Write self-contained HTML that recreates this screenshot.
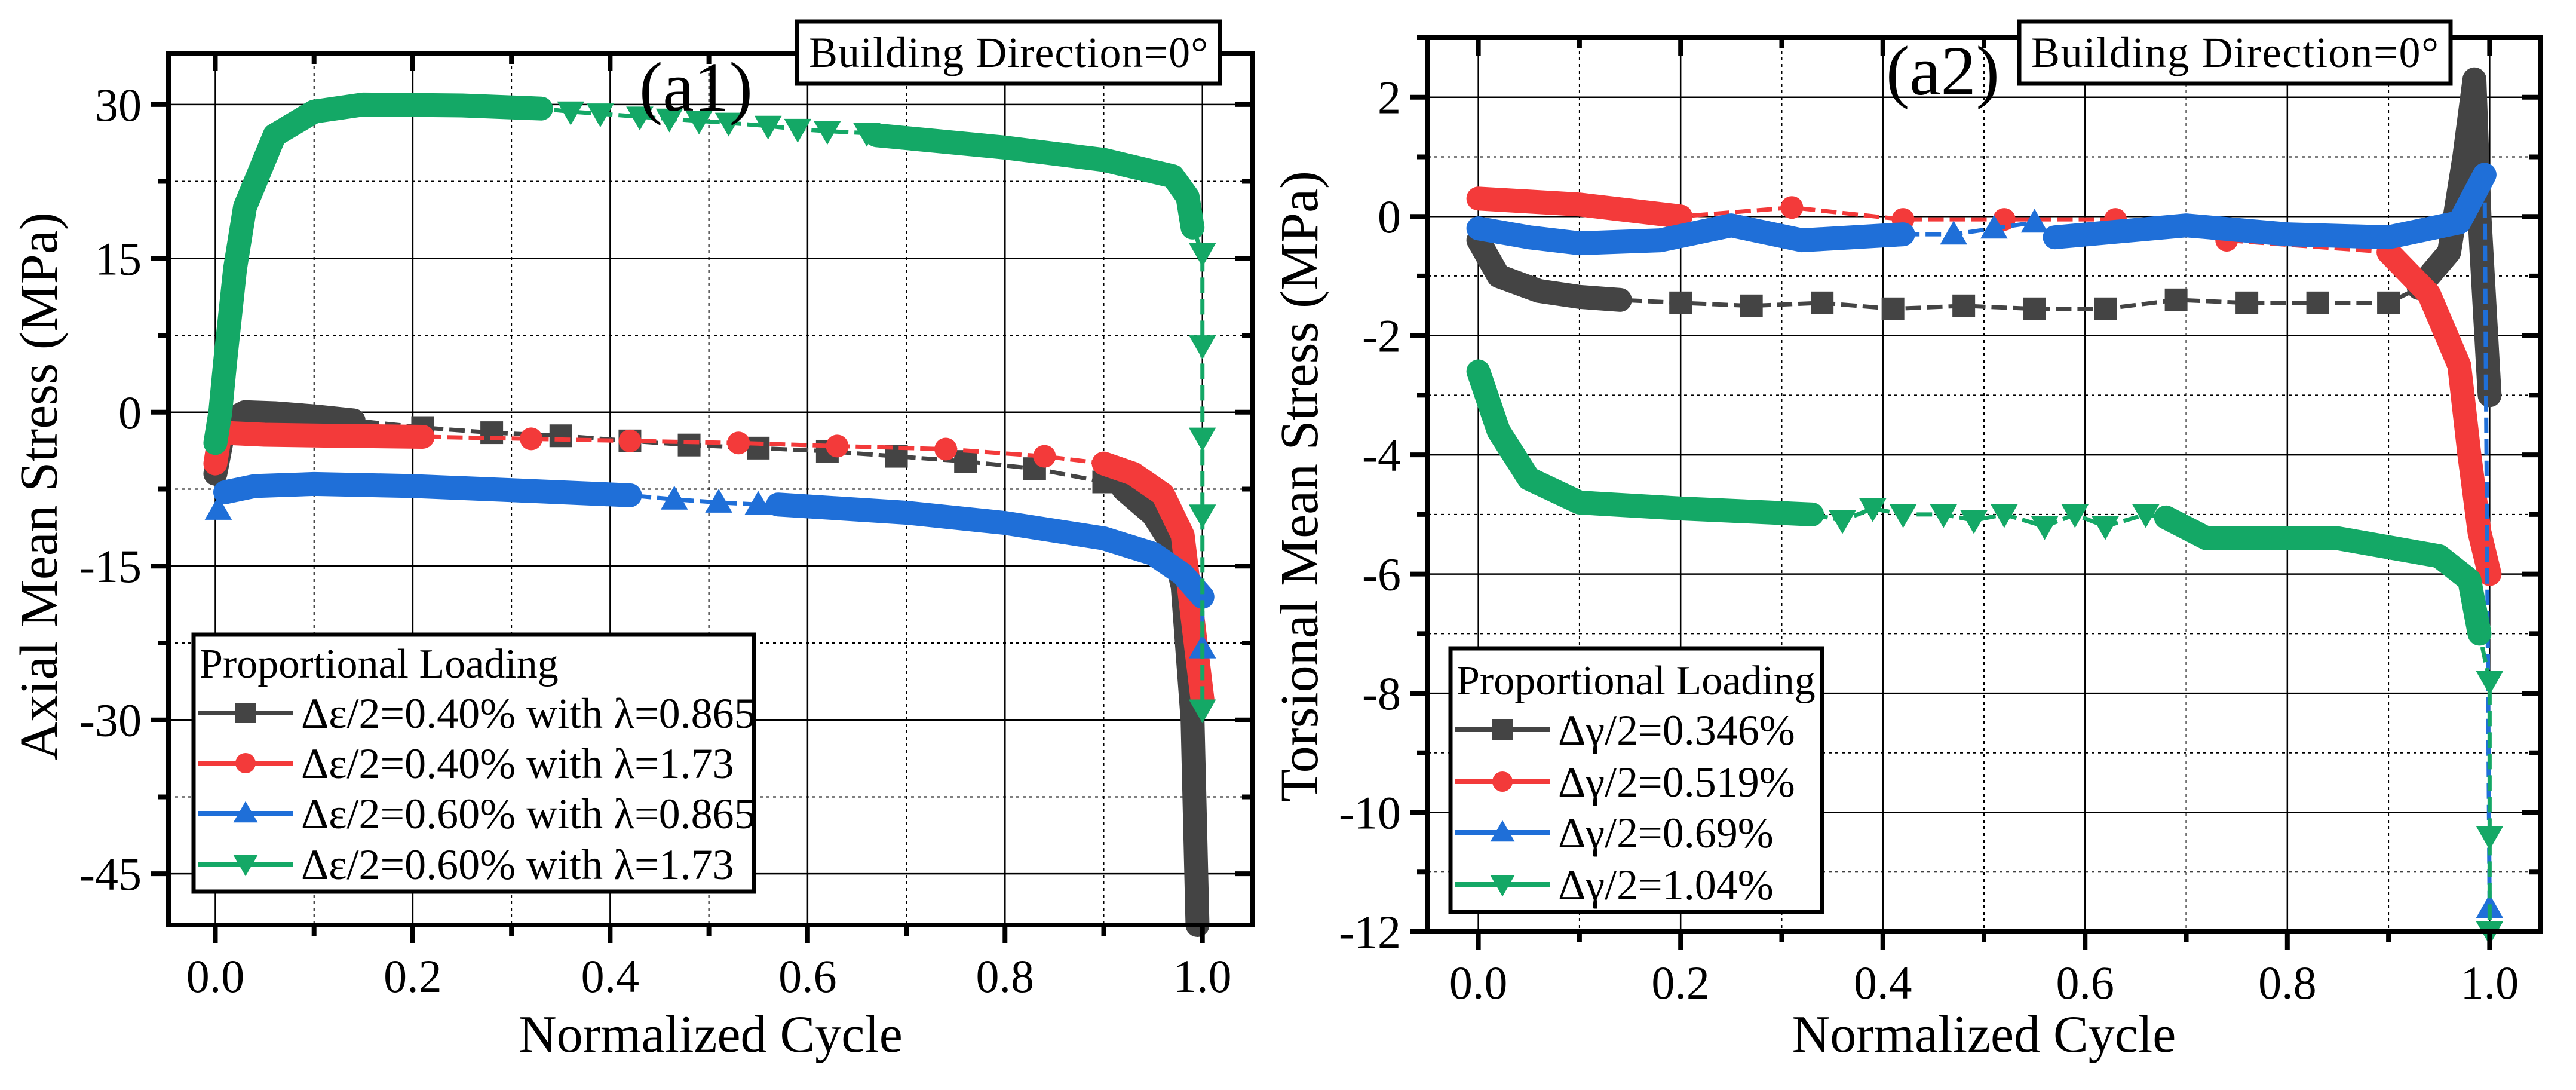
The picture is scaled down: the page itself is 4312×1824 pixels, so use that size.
<!DOCTYPE html>
<html><head><meta charset="utf-8">
<style>
html,body{margin:0;padding:0;background:#fff;}
svg{display:block;}
text{font-family:"Liberation Serif",serif;fill:#000;}
</style></head>
<body>
<svg id="fig" width="4312" height="1824" viewBox="0 0 4312 1824" xmlns="http://www.w3.org/2000/svg"></svg>
<script>
// ---------- Data (a1) axial ----------
const a1BlackX=[0,0.01,0.03,0.06,0.1,0.14,0.21,0.28,0.35,0.42,0.48,0.55,0.62,0.69,0.76,0.83,0.9,0.92,0.95,0.97,0.98,0.99,0.995];
const a1BlackY=[-6,-1,0,-0.1,-0.4,-0.8,-1.5,-2,-2.3,-2.8,-3.2,-3.5,-3.8,-4.3,-4.8,-5.5,-6.8,-7.5,-10,-13,-17,-30,-50];
const a1BlackD=[1,1,1,1,1,1,0,0,0,0,0,0,0,0,0,0,0,1,1,1,1,1,1];
const a1RedX=[0,0.005,0.05,0.12,0.21,0.32,0.42,0.53,0.63,0.74,0.84,0.9,0.93,0.96,0.98,0.99,1.0];
const a1RedY=[-5,-2,-2.2,-2.3,-2.4,-2.6,-2.8,-3.0,-3.3,-3.6,-4.3,-5,-6,-8,-12,-20,-28];
const a1RedD=[1,1,1,1,1,0,0,0,0,0,0,1,1,1,1,1,1];
const a1BlueX=[0.003,0.01,0.04,0.1,0.2,0.3,0.42,0.465,0.51,0.55,0.57,0.7,0.8,0.9,0.95,0.98,1.0,1.0];
const a1BlueY=[-9.5,-7.8,-7.2,-7,-7.2,-7.6,-8.1,-8.5,-8.8,-9,-9,-9.8,-10.8,-12.3,-13.8,-15.8,-18,-23];
const a1BlueD=[0,1,1,1,1,1,1,0,0,0,1,1,1,1,1,1,1,0];
const a1GreenX=[0,0.005,0.01,0.02,0.03,0.06,0.1,0.15,0.25,0.33,0.36,0.39,0.43,0.46,0.49,0.52,0.56,0.59,0.62,0.66,0.67,0.8,0.9,0.97,0.985,0.99,1.0,1.0,1.0,1.0,1.0];
const a1GreenY=[-3,0,5,14,20,27,29.3,30,29.9,29.6,29.3,29.1,28.8,28.6,28.4,28.2,27.9,27.6,27.4,27.2,27,25.8,24.6,23,21,18,15.5,6.5,-2.5,-10,-29];
const a1GreenD=[1,1,1,1,1,1,1,1,1,1,0,0,0,0,0,0,0,0,0,0,1,1,1,1,1,1,0,0,0,0,0];
// ---------- Data (a2) torsional ----------
const a2BlackX=[0,0.02,0.06,0.1,0.14,0.2,0.27,0.34,0.41,0.48,0.55,0.62,0.69,0.76,0.83,0.9,0.93,0.96,0.975,0.985,0.99,1.0];
const a2BlackY=[-0.4,-1,-1.25,-1.35,-1.4,-1.45,-1.5,-1.45,-1.55,-1.5,-1.55,-1.55,-1.4,-1.45,-1.45,-1.45,-1.2,-0.6,1,2.3,0,-3];
const a2BlackD=[1,1,1,1,1,0,0,0,0,0,0,0,0,0,0,0,1,1,1,1,1,1];
const a2RedX=[0,0.05,0.1,0.15,0.2,0.31,0.42,0.52,0.63,0.74,0.9,0.94,0.97,0.98,0.99,1.0];
const a2RedY=[0.3,0.25,0.2,0.1,0,0.15,-0.05,-0.05,-0.05,-0.4,-0.6,-1.3,-2.5,-4,-5.3,-6];
const a2RedD=[1,1,1,1,1,0,0,0,0,0,1,1,1,1,1,1];
const a2BlueX=[0,0.05,0.1,0.18,0.25,0.32,0.42,0.47,0.51,0.55,0.57,0.7,0.8,0.9,0.97,0.995,1.0];
const a2BlueY=[-0.2,-0.35,-0.45,-0.4,-0.15,-0.4,-0.3,-0.3,-0.2,-0.1,-0.35,-0.15,-0.3,-0.35,-0.1,0.7,-11.6];
const a2BlueD=[1,1,1,1,1,1,1,0,0,0,1,1,1,1,1,1,0];
const a2GreenX=[0,0.02,0.05,0.1,0.2,0.33,0.36,0.39,0.42,0.46,0.49,0.52,0.56,0.59,0.62,0.66,0.68,0.72,0.85,0.95,0.98,0.99,1.0,1.0,1.0];
const a2GreenY=[-2.6,-3.6,-4.4,-4.8,-4.9,-5,-5.1,-4.9,-5,-5,-5.1,-5,-5.2,-5,-5.2,-5,-5.05,-5.4,-5.4,-5.7,-6.1,-7,-7.8,-10.4,-12];
const a2GreenD=[1,1,1,1,1,1,0,0,0,0,0,0,0,0,0,0,1,1,1,1,1,1,0,0,0];
// ticks
const a1YTicks=[30,15,0,-15,-30,-45];
const a2YTicks=[2,0,-2,-4,-6,-8,-10,-12];
const xTicks=[0,0.2,0.4,0.6,0.8,1.0];
const xTickLabels=["0.0","0.2","0.4","0.6","0.8","1.0"];
const a1Legend=["Δε/2=0.40% with λ=0.865","Δε/2=0.40% with λ=1.73","Δε/2=0.60% with λ=0.865","Δε/2=0.60% with λ=1.73"];
const a2Legend=["Δγ/2=0.346%","Δγ/2=0.519%","Δγ/2=0.69%","Δγ/2=1.04%"];

const NS="http://www.w3.org/2000/svg";
const svg=document.getElementById('fig');
function mk(tag,attrs,parent){const e=document.createElementNS(NS,tag);for(const k in attrs)e.setAttribute(k,attrs[k]);(parent||svg).appendChild(e);return e;}
const COLORS=["#444444","#f33a3a","#1f6fd8","#14a866"];
const SHAPES=["square","circle","tri","tridown"];

function marker(g,shape,x,y,s,c){
  let e;
  if(shape==="square")e=mk('rect',{x:x-s/2,y:y-s/2,width:s,height:s,fill:c},g);
  else if(shape==="circle")e=mk('ellipse',{cx:x,cy:y,rx:s/2,ry:s/2,fill:c},g);
  else if(shape==="tri")e=mk('polygon',{points:`${x},${y-s*0.6} ${x-s*0.6},${y+s*0.45} ${x+s*0.6},${y+s*0.45}`,fill:c},g);
  else e=mk('polygon',{points:`${x},${y+s*0.6} ${x-s*0.6},${y-s*0.45} ${x+s*0.6},${y-s*0.45}`,fill:c},g);
  
  
  return e;
}

function panel(o){
  const {L,R,T,B,xmin,xmax,ymin,ymax,yTicks,yMinorStep,name}=o;
  const sx=v=>L+(v-xmin)/(xmax-xmin)*(R-L);
  const sy=v=>T+(ymax-v)/(ymax-ymin)*(B-T);
  const g=mk('g',{});
  
  
  const grid=mk('g',{},g);
  
  
  for(let v=0;v<=1.0001;v+=0.1){
    const major=Math.round(v*10)%2===0;
    mk('line',{x1:sx(v),x2:sx(v),y1:T,y2:B,stroke:"#000","stroke-width":major?2.5:2,"stroke-dasharray":major?"":"5 6"},grid);
  }
  for(let v=yTicks[yTicks.length-1];v<=ymax+1e-6;v+=yMinorStep){
    const major=yTicks.some(t=>Math.abs(t-v)<1e-6);
    mk('line',{x1:L,x2:R,y1:sy(v),y2:sy(v),stroke:"#000","stroke-width":major?2.5:2,"stroke-dasharray":major?"":"5 6"},grid);
  }
  o.series.forEach((s,i)=>{
    const c=COLORS[i];
    const sg=mk('g',{},g);
    
    
    const pts=s.x.map((xv,j)=>[sx(xv),sy(s.y[j])]);
    const line=mk('polyline',{points:pts.map(p=>p.join(',')).join(' '),fill:"none",stroke:c,"stroke-width":7,"stroke-dasharray":"26 10"},sg);
    
    
    let run=[];
    const flush=()=>{if(run.length>1){const b=mk('polyline',{points:run.map(p=>p.join(',')).join(' '),fill:"none",stroke:c,"stroke-width":40,"stroke-linejoin":"round","stroke-linecap":"round"},sg);
      
      }run=[];};
    pts.forEach((p,j)=>{if(s.d[j]){run.push(p);}else{flush();}});
    flush();
    pts.forEach((p,j)=>{if(!s.d[j])marker(sg,SHAPES[i],p[0],p[1],38,c);});
  });
  const fr=mk('rect',{x:L,y:T,width:R-L,height:B-T,fill:"none",stroke:"#000","stroke-width":8},g);
  
  
  for(let v=0;v<=1.0001;v+=0.1){
    const major=Math.round(v*10)%2===0;const len=major?30:18;
    mk('line',{x1:sx(v),x2:sx(v),y1:B,y2:B+len,stroke:"#000","stroke-width":8},g);
    mk('line',{x1:sx(v),x2:sx(v),y1:T,y2:T+len,stroke:"#000","stroke-width":8},g);
  }
  for(let v=yTicks[yTicks.length-1];v<=ymax+1e-6;v+=yMinorStep){
    const major=yTicks.some(t=>Math.abs(t-v)<1e-6);const len=major?30:18;
    mk('line',{x1:L-len,x2:L,y1:sy(v),y2:sy(v),stroke:"#000","stroke-width":8},g);
    mk('line',{x1:R-len,x2:R,y1:sy(v),y2:sy(v),stroke:"#000","stroke-width":8},g);
  }
  xTicks.forEach((v,j)=>{const t=mk('text',{x:sx(v),y:B+112,"font-size":78,"text-anchor":"middle"},g);t.textContent=xTickLabels[j];
    
    });
  yTicks.forEach(v=>{const t=mk('text',{x:L-45,y:sy(v)+27,"font-size":78,"text-anchor":"end"},g);t.textContent=String(v);
    
    });
  const xt=mk('text',{x:(L+R)/2,y:1760,"font-size":88,"text-anchor":"middle"},g);xt.textContent="Normalized Cycle";
  
  
  const yt=mk('text',{x:0,y:0,"font-size":90,"text-anchor":"middle",transform:`translate(${o.yTitleX},${o.yTitleY}) rotate(-90)`},g);yt.textContent=o.yTitle;
  
  
  const pl=mk('text',{x:o.lblX,y:o.lblY,"font-size":118,"text-anchor":"middle"},g);pl.textContent=o.lbl;
  
  
  const bb=mk('g',{},g);
  
  
  mk('rect',{x:o.bdX,y:36,width:o.bdW,height:104,fill:"#fff",stroke:"#000","stroke-width":7},bb);
  const bt=mk('text',{x:o.bdX+o.bdW/2,y:112,"font-size":72,"text-anchor":"middle",textLength:o.bdW-40},bb);bt.textContent="Building Direction=0°";
  const lg=mk('g',{},g);
  
  
  const lz=o.leg;
  mk('rect',{x:lz.x,y:lz.y,width:lz.w,height:lz.h,fill:"#fff",stroke:"#000","stroke-width":7},lg);
  const lt=mk('text',{x:lz.x+10,y:lz.titleY,"font-size":70},lg);lt.textContent="Proportional Loading";
  
  
  o.legLabels.forEach((txt,i)=>{
    const ey=lz.rows[i];
    const e=mk('g',{},lg);
    
    
    mk('line',{x1:lz.x+8,x2:lz.x+166,y1:ey,y2:ey,stroke:COLORS[i],"stroke-width":8},e);
    marker(e,SHAPES[i],lz.x+87,ey,34,COLORS[i]);
    const t=mk('text',{x:lz.x+180,y:ey+25,"font-size":72},e);t.textContent=txt;
  });
}

panel({name:'axial',L:282,R:2097,T:89,B:1548,xmin:-0.0475,xmax:1.051,ymin:-50,ymax:35,yTicks:a1YTicks,yMinorStep:7.5,
  series:[{x:a1BlackX,y:a1BlackY,d:a1BlackD},{x:a1RedX,y:a1RedY,d:a1RedD},{x:a1BlueX,y:a1BlueY,d:a1BlueD},{x:a1GreenX,y:a1GreenY,d:a1GreenD}],
  yTitle:"Axial Mean Stress (MPa)",yTitleX:95,yTitleY:814,lbl:"(a1)",lblX:1165,lblY:185,bdX:1334,bdW:708,
  leg:{x:324,y:1062,w:938,h:430,titleY:1134,rows:[1193,1277,1361,1446]},legLabels:a1Legend});
panel({name:'torsional',L:2390,R:4252,T:63,B:1559,xmin:-0.05,xmax:1.05,ymin:-12,ymax:3,yTicks:a2YTicks,yMinorStep:1,
  series:[{x:a2BlackX,y:a2BlackY,d:a2BlackD},{x:a2RedX,y:a2RedY,d:a2RedD},{x:a2BlueX,y:a2BlueY,d:a2BlueD},{x:a2GreenX,y:a2GreenY,d:a2GreenD}],
  yTitle:"Torsional Mean Stress (MPa)",yTitleX:2205,yTitleY:814,lbl:"(a2)",lblX:3252,lblY:158,bdX:3380,bdW:722,
  leg:{x:2428,y:1085,w:622,h:441,titleY:1162,rows:[1221,1308,1393,1480]},legLabels:a2Legend});
</script>
</body></html>
